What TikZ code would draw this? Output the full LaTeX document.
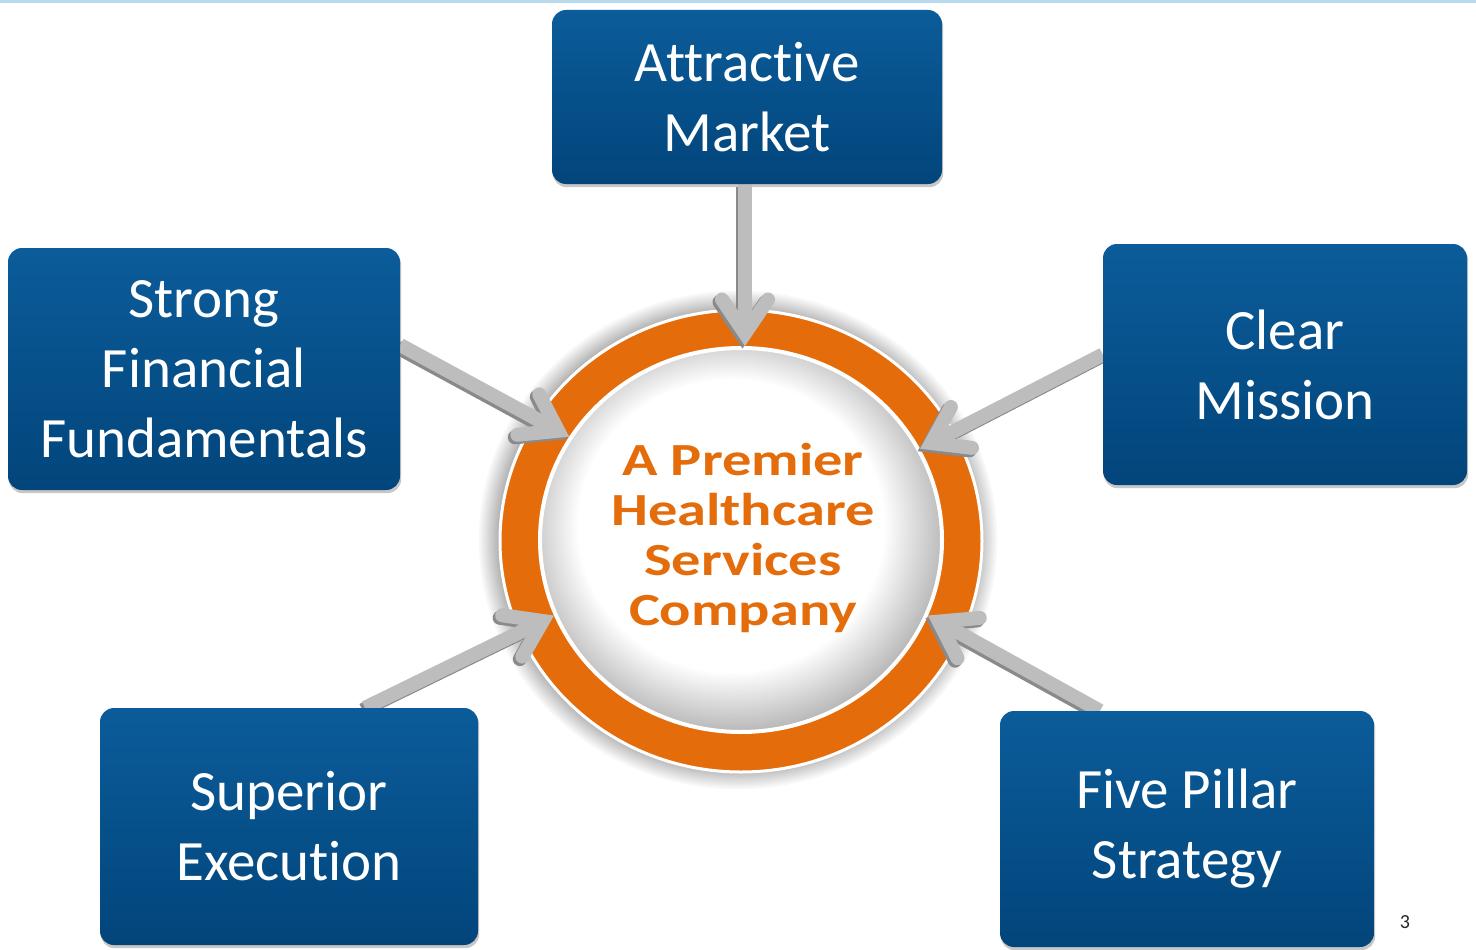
\documentclass[tikz,border=0pt]{standalone}
\usepackage{fontspec}
\setmainfont{Carlito}[Ligatures=NoCommon]
\usetikzlibrary{arrows.meta,shapes.geometric}
\definecolor{boxtop}{HTML}{0B5C9A}
\definecolor{boxbot}{HTML}{02457B}
\definecolor{ringor}{HTML}{E46C0A}
\definecolor{arrgray}{HTML}{BDBDBD}
\definecolor{arrdark}{HTML}{8A8A8A}
\definecolor{topline}{HTML}{B7DBEC}
\pgfdeclarelayer{back}
\pgfdeclarelayer{front}
\pgfsetlayers{back,main,front}
\pgfdeclareradialshading{innerglow}{\pgfpoint{-2bp}{3bp}}{color(0bp)=(white); color(19bp)=(white); color(27bp)=(black!30); color(50bp)=(black!30)}
\begin{document}
\begin{tikzpicture}[x=1pt,y=-1pt,
  pillar/.style={rectangle, rounded corners=14pt, top color=boxtop, bottom color=boxbot,
    text=white, align=center, inner sep=0pt,
    font=\fontsize{57}{70}\selectfont},
  boxshade/.style={fill=black!22, rounded corners=14pt},
  feedhead/.style={-{Straight Barb[length=34pt,width=46pt,line cap=round]}},
  feed/.style={draw=arrgray, line width=14pt, feedhead},
  feedshade/.style={draw=arrdark, line width=14pt, feedhead,
    transform canvas={shift={(-2.5pt,-2.5pt)}}}]
\useasboundingbox (0,0) rectangle (1476,950);

\begin{pgfonlayer}{back}
\fill[white] (0,0) rectangle (1476,950);
\fill[topline] (0,0) rectangle (1476,3);
\foreach \i [evaluate=\i as \c using 2.6*\i, evaluate=\i as \d using 20-1.8*\i] in {0,...,11}
  \fill[black!\c] (738,540) ellipse [x radius=241pt+\d pt, y radius=231pt+\d pt];
\node[ellipse, minimum width=482pt, minimum height=462pt, inner sep=0pt,
  fill=ringor, draw=white, line width=3pt] (ring) at (741,541) {};
\node[ellipse, minimum width=402pt, minimum height=384pt, inner sep=0pt,
  draw=white, line width=4pt, shading=innerglow] (core) at (741,540) {};
\end{pgfonlayer}

\begin{pgfonlayer}{front}
\node[pillar, minimum width=390pt, minimum height=174pt] (am) at (747,97) {Attractive\\Market};
\node[pillar, minimum width=392pt, minimum height=242pt] (sff) at (204,369) {Strong\\Financial\\Fundamentals};
\node[pillar, minimum width=364pt, minimum height=241pt] (cm) at (1285,364.5) {Clear\\Mission};
\node[pillar, minimum width=378pt, minimum height=237pt] (se) at (289,826.5) {Superior\\Execution};
\node[pillar, minimum width=374pt, minimum height=236pt] (fps) at (1187,829) {Five Pillar\\Strategy};
\node[text=ringor, align=center, inner sep=0pt, xscale=1.27,
  font=\fontsize{46}{50}\selectfont\bfseries] (title) at (743,538)
  {A Premier\\Healthcare\\Services\\Company};
\node[font=\fontsize{20}{24}\selectfont, text=black!85, inner sep=0pt] (pg) at (1405,922) {3};
\end{pgfonlayer}

\foreach \b in {am,sff,cm,se,fps}
  \fill[boxshade] ([xshift=1pt,yshift=-3pt]\b.south west) rectangle ([xshift=1pt,yshift=-3pt]\b.north east);

\coordinate (amin) at ([xshift=-2pt]am.south |- core.north);
\draw[feedshade] ([xshift=-2pt]am.south) -- (amin);
\draw[feedshade] ([yshift=24pt]sff.east) -- (core.149);
\draw[feedshade] ([yshift=10pt]cm.west) -- (core.27);
\draw[feedshade] ([xshift=76pt]se.north) -- (core.202);
\draw[feedshade] ([xshift=-87pt]fps.north) -- (core.338);

\draw[feed] ([xshift=-2pt]am.south) -- (amin);
\draw[feed] ([yshift=24pt]sff.east) -- (core.149);
\draw[feed] ([yshift=10pt]cm.west) -- (core.27);
\draw[feed] ([xshift=76pt]se.north) -- (core.202);
\draw[feed] ([xshift=-87pt]fps.north) -- (core.338);
\end{tikzpicture}
\end{document}
